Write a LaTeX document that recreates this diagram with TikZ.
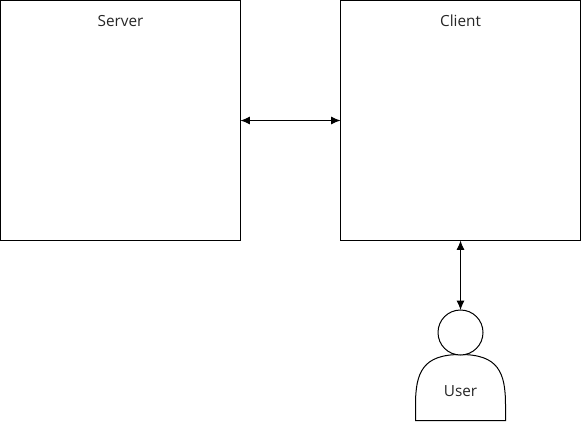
\documentclass[tikz,border=0pt]{standalone}
\usepackage{fontspec}
\setmainfont{Open Sans}
\usetikzlibrary{arrows.meta}
\tikzset{
    box/.style={draw, line width=.75pt, minimum size=180pt, inner sep=0pt, outer sep=0pt},
    lab/.style={font=\fontsize{11.5pt}{13pt}\selectfont, text=black!85, inner sep=0pt},
    link/.style={{Latex[length=7pt,width=6pt]}-{Latex[length=7pt,width=6pt]}, line width=.75pt}
}
\begin{document}
\begin{tikzpicture}[x=.75pt,y=-.75pt]
    \useasboundingbox (0,0) rectangle (581,421);
    \node [box] (server) at (120.5,120.5) {};
    \node [box] (client) at (460.5,120.5) {};
    \node [lab] (servertext) at (120.5,21) {Server};
    \node [lab] (clienttext) at (460.5,21) {Client};
    \draw [line width=.75pt] (415.5,420.5) -- (415.5,405)
        .. controls (415.5,372) and (423,354.5) .. (460.5,354.5)
        .. controls (498,354.5) and (505.5,372) .. (505.5,405)
        -- (505.5,420.5) -- cycle;
    \node [draw, circle, line width=.75pt, minimum size=33.75pt, inner sep=0pt, outer sep=0pt, fill=white] (head) at (460.5,332.5) {};
    \node [lab] (user) at (460.5,391.5) {User};
    \draw [link] (server) -- (client);
    \draw [link] (client.south) -- (head.north);
\end{tikzpicture}
\end{document}
